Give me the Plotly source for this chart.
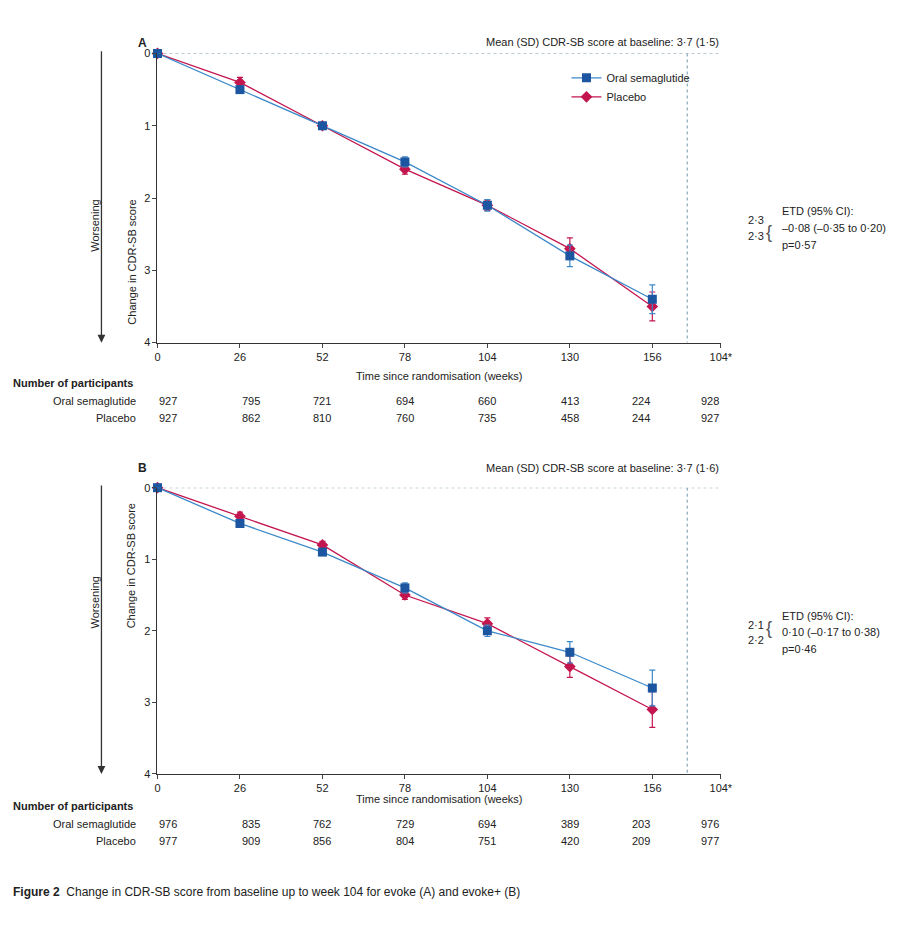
import plotly.graph_objects as go

weeks = [0, 26, 52, 78, 104, 130, 156]
week_end = 180.5      # position of the separate week-104 estimate
tick_vals = [0, 26, 52, 78, 104, 130, 156, 177.6]
tick_text = ["0", "26", "52", "78", "104", "130", "156", "104*"]

# panel A (evoke)
a_sema = [0, 0.5, 1.0, 1.5, 2.1, 2.8, 3.4]
a_sema_err = [0.02, 0.05, 0.03, 0.07, 0.08, 0.15, 0.2]
a_plac = [0, 0.4, 1.0, 1.6, 2.1, 2.7, 3.5]
a_plac_err = [0.02, 0.07, 0.03, 0.07, 0.07, 0.15, 0.2]
a_end_sema, a_end_sema_err = 2.3, 0.08
a_end_plac, a_end_plac_err = 2.3, 0.08
a_n_sema = ["927", "795", "721", "694", "660", "413", "224", "928"]
a_n_plac = ["927", "862", "810", "760", "735", "458", "244", "927"]

# panel B (evoke+)
b_sema = [0, 0.5, 0.9, 1.4, 2.0, 2.3, 2.8]
b_sema_err = [0.02, 0.05, 0.04, 0.07, 0.08, 0.15, 0.25]
b_plac = [0, 0.4, 0.8, 1.5, 1.9, 2.5, 3.1]
b_plac_err = [0.02, 0.06, 0.05, 0.06, 0.08, 0.15, 0.25]
b_end_sema, b_end_sema_err = 2.2, 0.07
b_end_plac, b_end_plac_err = 2.07, 0.07
b_n_sema = ["976", "835", "762", "729", "694", "389", "203", "976"]
b_n_plac = ["977", "909", "856", "804", "751", "420", "209", "977"]

BLUE = "#1d56a0"
BLUE_LINE = "#3b88c9"
RED = "#c4164e"
GUIDE = "#6f97a8"
FONT = "Liberation Sans Narrow, Liberation Sans, Arial"

# page has an 8px body margin, so the figure is a bit smaller than the window
W, H = 890, 914
def X(p): return (p - 8) / W
def Y(p): return 1 - (p - 8) / H

fig = go.Figure()

panels = [
    ("A", 48, 341, a_sema, a_sema_err, a_plac, a_plac_err, a_end_sema, a_end_sema_err,
     a_end_plac, a_end_plac_err, a_n_sema, a_n_plac, "3·7 (1·5)",
     ["2·3", "2·3"], ["ETD (95% CI):", "–0·08 (–0·35 to 0·20)", "p=0·57"]),
    ("B", 488, 778, b_sema, b_sema_err, b_plac, b_plac_err, b_end_sema, b_end_sema_err,
     b_end_plac, b_end_plac_err, b_n_sema, b_n_plac, "3·7 (1·6)",
     ["2·1", "2·2"], ["ETD (95% CI):", "0·10 (–0·17 to 0·38)", "p=0·46"]),
]

ann = []
for i, (lab, top, bot, sv, se, pv, pe, es, ese, ep, epe, ns, npl, base, ends, etd) in enumerate(panels):
    xa = "x" if i == 0 else "x2"
    ya = "y" if i == 0 else "y2"
    first = i == 0
    fig.add_trace(go.Scatter(x=weeks, y=pv, mode="lines+markers", name="Placebo",
                             line=dict(color=RED, width=1.3),
                             marker=dict(symbol="diamond", size=9, color=RED),
                             error_y=dict(type="data", array=pe, color=RED, thickness=1.2, width=3),
                             xaxis=xa, yaxis=ya, showlegend=first, legendrank=2, cliponaxis=False))
    fig.add_trace(go.Scatter(x=weeks, y=sv, mode="lines+markers", name="Oral semaglutide",
                             line=dict(color=BLUE_LINE, width=1.3),
                             marker=dict(symbol="square", size=9, color=BLUE),
                             error_y=dict(type="data", array=se, color=BLUE_LINE, thickness=1.2, width=3),
                             xaxis=xa, yaxis=ya, showlegend=first, legendrank=1, cliponaxis=False))
    fig.add_trace(go.Scatter(x=[week_end], y=[ep], mode="markers", showlegend=False,
                             marker=dict(symbol="diamond", size=9, color=RED),
                             error_y=dict(type="data", array=[epe], color=RED, thickness=1.2, width=3),
                             xaxis=xa, yaxis=ya, cliponaxis=False))
    fig.add_trace(go.Scatter(x=[week_end], y=[es], mode="markers", showlegend=False,
                             marker=dict(symbol="square", size=9, color=BLUE),
                             error_y=dict(type="data", array=[ese], color=BLUE_LINE, thickness=1.2, width=3),
                             xaxis=xa, yaxis=ya, cliponaxis=False))

    # guides
    fig.add_shape(type="line", xref=xa, yref=ya, x0=0, x1=177.6, y0=0, y1=0,
                  line=dict(color=GUIDE, width=1, dash="dot"))
    fig.add_shape(type="line", xref=xa, yref=ya, x0=167, x1=167, y0=0, y1=4,
                  line=dict(color=GUIDE, width=1, dash="dot"))

    fig.update_layout(**{
        ("xaxis" if first else "xaxis2"): dict(
            domain=[X(157), X(730)], range=[0, 177.6], tickvals=tick_vals, ticktext=tick_text,
            showline=True, linecolor="#333", ticks="outside", ticklen=4, showgrid=False,
            zeroline=False, anchor=ya, tickfont=dict(size=11)),
        ("yaxis" if first else "yaxis2"): dict(
            domain=[Y(bot), Y(top)], range=[4, 0], tickvals=[0, 1, 2, 3, 4],
            showline=True, linecolor="#333", ticks="outside", ticklen=4, showgrid=False,
            zeroline=False, anchor=xa, tickfont=dict(size=11)),
    })

    def t(x, y, s, size=11, color="#222", **kw):
        d = dict(x=X(x), y=Y(y), xref="paper", yref="paper", text=s, showarrow=False,
                 font=dict(size=size, color=color))
        d.update(kw)
        ann.append(d)

    t(148, top - 20, "<b>" + lab + "</b>", size=12, xanchor="right")
    t(730, top - 20, "Mean (SD) CDR-SB score at baseline: " + base, xanchor="right")
    t(122, (top + bot) / 2, "Change in CDR-SB score", textangle=-90)
    t(85, (top + bot) / 2, "Worsening", textangle=-90)
    ann.append(dict(x=X(100), y=Y(bot), xref="paper", yref="paper", ax=0, ay=-(bot - top) * H / 914,
                    showarrow=True, arrowhead=2, arrowsize=1.2, arrowwidth=1.3, arrowcolor="#333", text=""))
    t(443, bot + 34, "Time since randomisation (weeks)")
    t(8, bot + 41, "<b>Number of participants</b>", xanchor="left")
    t(137, bot + 59, "Oral semaglutide", xanchor="right")
    t(137, bot + 76, "Placebo", xanchor="right")
    for tv, a, b in zip(tick_vals, ns, npl):
        xp = 157 + tv / 177.6 * (730 - 157)
        t(xp, bot + 59, a)
        t(xp, bot + 76, b)
    ybase = top + (bot - top) * ((es + ep) / 2) / 4
    t(756, ybase - 8, ends[0], xanchor="left")
    t(756, ybase + 8, ends[1], xanchor="left")
    t(774, ybase, "{", size=18, color="#555", xanchor="left")
    t(790, ybase - 17, etd[0], xanchor="left")
    t(790, ybase, etd[1], xanchor="left")
    t(790, ybase + 17, etd[2], xanchor="left")

ann.append(dict(x=X(8), y=Y(907), xref="paper", yref="paper", showarrow=False, xanchor="left",
                text="<b>Figure 2</b>  Change in CDR-SB score from baseline up to week 104 for evoke (A) and evoke+ (B)",
                font=dict(size=12, color="#222")))

fig.update_layout(
    width=W, height=H, margin=dict(l=0, r=0, t=0, b=0),
    plot_bgcolor="white", paper_bgcolor="white",
    font=dict(family=FONT, size=11, color="#222"),
    legend=dict(x=X(573), y=Y(58), xanchor="left", yanchor="top", bgcolor="rgba(0,0,0,0)",
                font=dict(size=11), tracegroupgap=0, itemwidth=30),
    annotations=ann,
)

fig.write_html("out.html")
